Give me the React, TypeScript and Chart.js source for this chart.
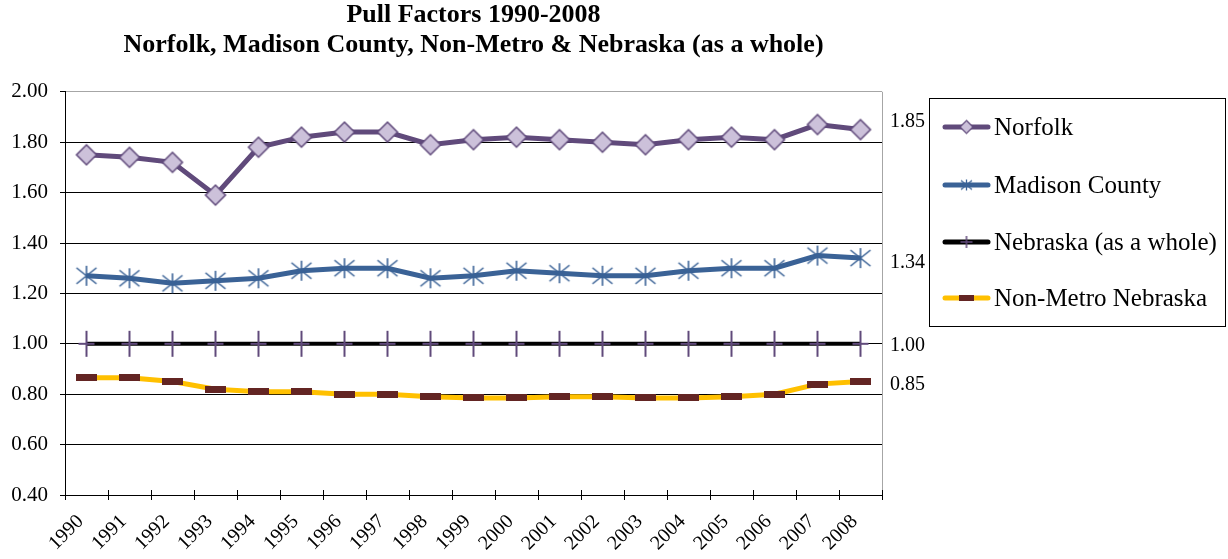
import { useEffect, useRef } from "react";
import { Chart, registerables } from "chart.js";

Chart.register(...registerables);

const years = ["1990", "1991", "1992", "1993", "1994", "1995", "1996", "1997", "1998", "1999", "2000", "2001", "2002", "2003", "2004", "2005", "2006", "2007", "2008"];
const norfolk = [1.75, 1.74, 1.72, 1.59, 1.78, 1.82, 1.84, 1.84, 1.79, 1.81, 1.82, 1.81, 1.80, 1.79, 1.81, 1.82, 1.81, 1.87, 1.85];
const madison = [1.27, 1.26, 1.24, 1.25, 1.26, 1.29, 1.30, 1.30, 1.26, 1.27, 1.29, 1.28, 1.27, 1.27, 1.29, 1.30, 1.30, 1.35, 1.34];
const nebraska = [1.00, 1.00, 1.00, 1.00, 1.00, 1.00, 1.00, 1.00, 1.00, 1.00, 1.00, 1.00, 1.00, 1.00, 1.00, 1.00, 1.00, 1.00, 1.00];
const nonMetro = [0.865, 0.865, 0.85, 0.82, 0.81, 0.81, 0.80, 0.80, 0.79, 0.785, 0.785, 0.79, 0.79, 0.785, 0.785, 0.79, 0.80, 0.84, 0.85];
const seriesNames = ["Norfolk", "Madison County", "Nebraska (as a whole)", "Non-Metro Nebraska"];
const endLabels = ["1.85", "1.34", "1.00", "0.85"];
const titleLines = ["Pull Factors 1990-2008", "Norfolk, Madison County, Non-Metro & Nebraska (as a whole)"];
const yMin = 0.4;
const yMax = 2.0;
const yStep = 0.2;

const SERIF = "'Liberation Serif', 'Times New Roman', serif";
const PURPLE = "#604A7B";
const LILAC = "#CCC1DA";
const BLUE = "#3A6296";
const YELLOW = "#FFC000";
const BROWN = "#632523";

function makeCanvas(w: number, h: number, draw: (ctx: CanvasRenderingContext2D, cx: number, cy: number) => void) {
  const c = document.createElement("canvas");
  c.width = w;
  c.height = h;
  const ctx = c.getContext("2d")!;
  draw(ctx, w / 2, h / 2);
  return c;
}

function diamond(r: number, lw: number) {
  return makeCanvas(2 * r + 4, 2 * r + 4, (ctx, cx, cy) => {
    ctx.beginPath();
    ctx.moveTo(cx, cy - r);
    ctx.lineTo(cx + r, cy);
    ctx.lineTo(cx, cy + r);
    ctx.lineTo(cx - r, cy);
    ctx.closePath();
    ctx.fillStyle = LILAC;
    ctx.fill();
    ctx.lineWidth = lw;
    ctx.strokeStyle = PURPLE;
    ctx.stroke();
  });
}

function star(r: number, lw: number) {
  return makeCanvas(2 * r + 4, 2 * r + 4, (ctx, cx, cy) => {
    ctx.strokeStyle = BLUE;
    ctx.lineWidth = lw;
    ctx.beginPath();
    ctx.moveTo(cx - r, cy - r * 0.8);
    ctx.lineTo(cx + r, cy + r * 0.8);
    ctx.moveTo(cx - r, cy + r * 0.8);
    ctx.lineTo(cx + r, cy - r * 0.8);
    ctx.moveTo(cx, cy - r);
    ctx.lineTo(cx, cy + r);
    ctx.stroke();
  });
}

function plus(rv: number, rh: number, lw: number) {
  return makeCanvas(2 * rh + 4, 2 * rv + 4, (ctx, cx, cy) => {
    ctx.strokeStyle = PURPLE;
    ctx.lineWidth = lw;
    ctx.beginPath();
    ctx.moveTo(cx, cy - rv);
    ctx.lineTo(cx, cy + rv);
    ctx.moveTo(cx - rh, cy);
    ctx.lineTo(cx + rh, cy);
    ctx.stroke();
  });
}

function dash(w: number, h: number) {
  return makeCanvas(w, h, (ctx) => {
    ctx.fillStyle = BROWN;
    ctx.fillRect(0, 0, w, h);
  });
}

export default function App() {
  const ref = useRef<HTMLCanvasElement>(null);

  useEffect(() => {
    const canvas = ref.current!;
    const mk = {
      diamond: diamond(10, 1.5),
      star: star(10, 1.6),
      plus: plus(13, 8, 2),
      dash: dash(21, 7),
      lDiamond: diamond(6.5, 1.2),
      lStar: star(5.5, 1.3),
      lPlus: plus(6, 6, 1.5),
      lDash: dash(15, 6),
    };

    const lineColors = [PURPLE, BLUE, "#000000", YELLOW];
    const legendMarks = [mk.lDiamond, mk.lStar, mk.lPlus, mk.lDash];

    const overlay = {
      id: "overlay",
      afterDraw(chart: any) {
        const { ctx, chartArea: a, scales } = chart;
        const x = scales.x;
        const y = scales.y;
        ctx.save();
        // right plot border
        ctx.strokeStyle = "#A6A6A6";
        ctx.lineWidth = 1;
        ctx.beginPath();
        const rx = Math.round(a.right) + 0.5;
        ctx.moveTo(rx, a.top);
        ctx.lineTo(rx, a.bottom);
        ctx.stroke();
        // inward cross ticks on category axis
        ctx.strokeStyle = "#000";
        ctx.beginPath();
        const n = years.length;
        for (let i = 0; i <= n; i++) {
          const px = Math.round(x.left + (i * (x.right - x.left)) / n) + 0.5;
          ctx.moveTo(px, a.bottom);
          ctx.lineTo(px, a.bottom - 5);
        }
        ctx.stroke();
        // end-of-series labels
        const lasts = [norfolk, madison, nebraska, nonMetro].map((s) => s[s.length - 1]);
        const nudges = [-8, 5, 2, 3];
        ctx.fillStyle = "#000";
        ctx.font = `20px ${SERIF}`;
        ctx.textAlign = "left";
        ctx.textBaseline = "middle";
        endLabels.forEach((t, i) => {
          ctx.fillText(t, a.right + 8, y.getPixelForValue(lasts[i]) + nudges[i]);
        });
        // legend
        ctx.strokeStyle = "#000";
        ctx.lineWidth = 1;
        ctx.strokeRect(929.5, 98.5, 296, 228);
        const rows = [127, 185, 242, 298];
        seriesNames.forEach((name, i) => {
          const ry = rows[i];
          ctx.strokeStyle = lineColors[i];
          ctx.lineWidth = 5;
          ctx.lineCap = "round";
          ctx.beginPath();
          ctx.moveTo(945, ry);
          ctx.lineTo(988, ry);
          ctx.stroke();
          const m = legendMarks[i];
          ctx.drawImage(m, 966.5 - m.width / 2, ry - m.height / 2);
          ctx.fillStyle = "#000";
          ctx.font = `25px ${SERIF}`;
          ctx.textAlign = "left";
          ctx.textBaseline = "middle";
          ctx.fillText(name, 994, ry + 1);
        });
        ctx.restore();
      },
    };

    const chart = new Chart(canvas, {
      type: "line",
      data: {
        labels: years,
        datasets: [
          {
            label: seriesNames[0],
            data: norfolk,
            borderColor: PURPLE,
            borderWidth: 5,
            pointStyle: mk.diamond as any,
            pointRadius: 10,
            tension: 0,
          },
          {
            label: seriesNames[1],
            data: madison,
            borderColor: BLUE,
            borderWidth: 5,
            pointStyle: mk.star as any,
            pointRadius: 10,
            tension: 0,
          },
          {
            label: seriesNames[2],
            data: nebraska,
            borderColor: "#000000",
            borderWidth: 4,
            pointStyle: mk.plus as any,
            pointRadius: 10,
            tension: 0,
          },
          {
            label: seriesNames[3],
            data: nonMetro,
            borderColor: YELLOW,
            borderWidth: 5,
            pointStyle: mk.dash as any,
            pointRadius: 10,
            tension: 0,
          },
        ],
      },
      options: {
        responsive: false,
        animation: false,
        devicePixelRatio: 1,
        layout: { padding: { left: 8, right: 346, top: 0, bottom: 0 } },
        plugins: {
          legend: { display: false },
          tooltip: { enabled: false },
          title: {
            display: true,
            text: titleLines,
            fullSize: false,
            color: "#000",
            font: { family: SERIF, size: 26, weight: "bold", lineHeight: 1.15 },
            padding: { top: 0, bottom: 32 },
          },
        },
        scales: {
          x: {
            offset: true,
            grid: {
              offset: true,
              drawOnChartArea: false,
              drawTicks: true,
              tickLength: 5,
              color: "#000",
            },
            border: { color: "#000", width: 1 },
            ticks: {
              color: "#000",
              font: { family: SERIF, size: 20 },
              minRotation: 45,
              maxRotation: 45,
              padding: 10,
              labelOffset: -6,
              autoSkip: false,
            },
            afterFit: (s: any) => {
              s.height = 64;
            },
          },
          y: {
            min: yMin,
            max: yMax,
            grid: {
              color: (c: any) => (c.tick && Math.abs(c.tick.value - yMax) < 1e-6 ? "#A6A6A6" : "#000"),
              lineWidth: 1,
              tickLength: 5,
              tickColor: "#000",
            },
            border: { color: "#000", width: 1 },
            ticks: {
              stepSize: yStep,
              color: "#000",
              font: { family: SERIF, size: 21 },
              padding: 12,
              callback: (v: any) => Number(v).toFixed(2),
            },
            afterFit: (s: any) => {
              s.width = 57;
            },
          },
        },
      } as any,
      plugins: [overlay],
    });

    return () => chart.destroy();
  }, []);

  return (
    <div style={{ position: "fixed", left: 0, top: 0, width: 1228, height: 559, background: "#fff" }}>
      <canvas ref={ref} width={1228} height={559} style={{ display: "block", width: 1228, height: 559 }} />
    </div>
  );
}
